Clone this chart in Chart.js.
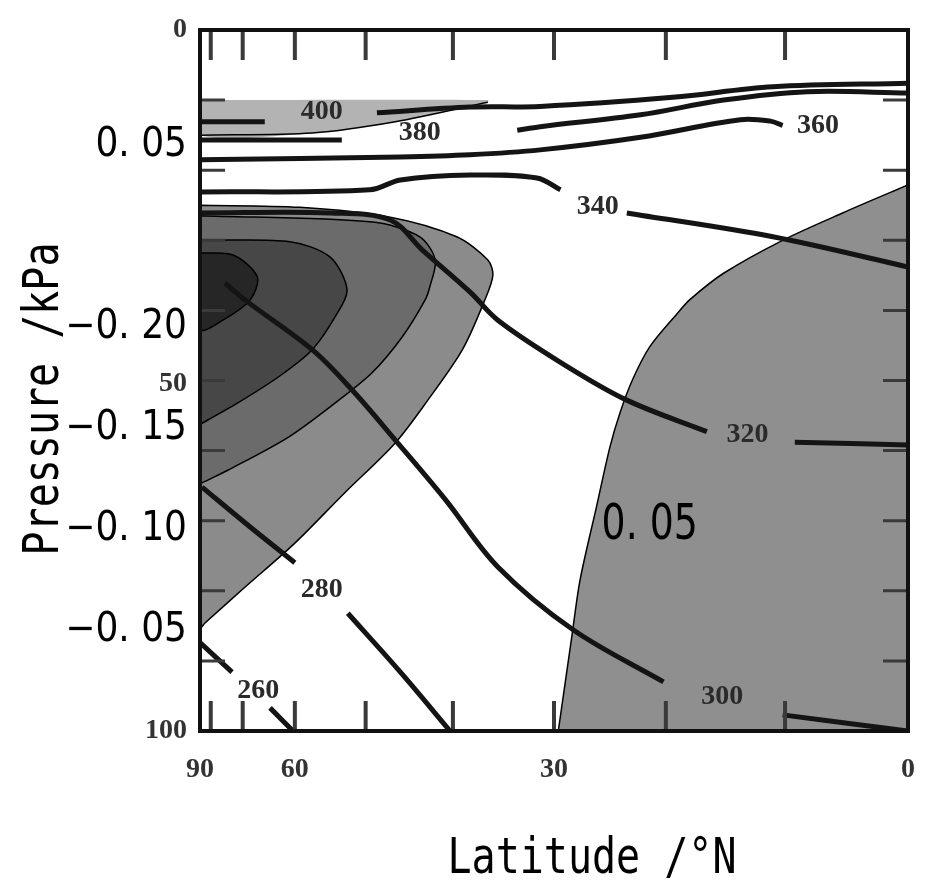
<!DOCTYPE html>
<html>
<head>
<meta charset="utf-8">
<script src="https://cdn.jsdelivr.net/npm/chart.js@4.4.1/dist/chart.umd.min.js"></script>
<style>
  html, body { margin: 0; background: #fff; }
  #wrap { width: 939px; height: 894px; position: relative; }
</style>
</head>
<body>
<div id="wrap"><canvas id="chart"></canvas></div>
<script>
// points are [latitude °N, pressure kPa]; null breaks a line (label gap)
const xTicks = [90, 60, 30, 0];
const minorLat = [80, 70, 60, 50, 40, 30, 20, 10];
const minorP = [10, 20, 30, 40, 50, 60, 70, 80, 90];
const yTickVals = [0, 16.5, 42.4, 50.4, 56.8, 71.3, 85.7, 100];
const yTickText = ['0', '0. 05', '\u22120. 20', '50', '\u22120. 15', '\u22120. 10', '\u22120. 05', '100'];
const smallTicks = ['0', '50', '100'];

// isotherms (K)
const iso400 = [[90,13.1],[65.3,13.1],null,[48.6,11.8],[38.2,11.0],[31.3,10.9],[19.4,9.6],[11.0,8.1],[0,7.6]];
const iso380 = [[90,15.7],[53.1,15.7],null,[33.5,14.3],[31.3,13.8],[22.2,12.1],[15.1,10.0],[8.2,8.8],[0,9.0]];
const iso360 = [[90,18.5],[45.8,18.1],[38.2,17.8],[31.3,17.1],[22.2,15.3],[13.7,12.8],[11.2,13.0],[10.2,13.6]];
const iso340 = [[90,23.1],[49.5,22.8],[45.8,21.4],[38.2,20.7],[31.6,21.1],[29.4,22.8],null,[23.4,26.1],[11.0,29.5],[0,33.8]];
const iso320 = [[90,26.1],[54.7,26.1],[47.0,27.1],[43.3,31.4],[38.2,37.4],[35.4,41.4],[29.4,47.4],[23.4,52.8],[16.5,57.3],null,[9.2,58.8],[0,59.2]];
const iso300 = [[74.7,36.1],[69.5,38.5],[57.3,45.6],[51.7,51.4],[46.4,58.5],[40.8,67.0],[35.4,76.6],[28.2,85.6],[20.2,93.0],null,[10.2,97.7],[0,100]];
const iso280 = [[85.7,65.2],[68.3,70.9],[60.0,76.0],null,[52.3,83.2],[45.8,91.6],[40.3,100]];
const iso260 = [[90,87.4],[72.7,91.6],null,[64.3,96.7],[60.3,100]];

const isoLabels = ['400', '380', '360', '340', '320', '300', '280', '260'];
const isoLabelLat = [55.9, 43.6, 7.3, 26.0, 13.1, 15.2, 55.9, 66.6];
const isoLabelP = [11.7, 14.7, 13.6, 25.2, 57.8, 95.1, 79.9, 94.2];

// shaded areas
const regionTop = [[90,10.0],[36.4,10.0],[36.4,10.3],[46.4,13.1],[57.3,14.7],[90,15.0],[90,10.0]];
const topEdge = [[90,15.0],[57.3,14.7],[46.4,13.1],[36.4,10.3]];
const blobOuter = [[90,25.0],[59.2,25.3],[47.0,26.7],[39.6,29.5],[36.4,32.8],[35.9,35.0],[36.7,38.5],[39.0,45.6],[42.7,52.8],[46.4,58.9],[52.7,66.0],[60.0,73.2],[69.5,79.5],[83.2,84.6],[90,85.3],[90,25.0]];
const blobMid = [[90,26.5],[49.1,27.4],[43.6,29.5],[41.9,32.8],[42.5,36.7],[43.0,38.5],[45.6,43.8],[49.2,48.9],[54.0,53.2],[61.1,58.1],[73.9,62.8],[85.7,64.6],[90,64.8],[90,26.5]];
const blobInner = [[90,30.0],[60.8,30.2],[54.7,32.4],[52.4,37.1],[54.0,40.9],[57.3,45.6],[62.8,49.5],[71.2,53.2],[85.7,56.1],[90,56.2],[90,30.0]];
const blobCore = [[90,31.8],[72.4,32.1],[66.8,35.2],[68.3,38.5],[75.4,41.4],[90,42.7],[90,31.8]];
// right area: edge from the equator down to the ground, shaded below it
const rightEdge = [[0,22.1],[5.3,26.1],[10.2,30.0],[15.1,34.7],[17.9,38.4],[19.0,40.4],[21.4,45.2],[22.9,49.9],[24.0,54.6],[24.9,59.5],[26.1,68.0],[27.6,78.5],[28.3,86.0],[29.6,100]];
const regionText = '0. 05';
const regionTextLat = 21.4;
const regionTextP = 70.8;

const BIG_FONT = "'DejaVu Sans Condensed', 'DejaVu Sans', sans-serif";
const SMALL_FONT = "'Liberation Serif', 'DejaVu Serif', serif";
const TITLE_FONT = "'DejaVu Sans Mono', 'Liberation Mono', monospace";

// latitude axis spaced by sin(latitude), 90 on the left
class SinLatScale extends Chart.LinearScale {
  getPixelForValue(v) {
    return this.left + (1 - Math.sin(v * Math.PI / 180)) * this.width;
  }
  getValueForPixel(px) {
    return Math.asin(1 - (px - this.left) / this.width) * 180 / Math.PI;
  }
}
SinLatScale.id = 'sinlat';
SinLatScale.defaults = Chart.LinearScale.defaults;
Chart.register(SinLatScale);

const toPts = arr => arr.map(d => d ? { x: d[0], y: d[1] } : { x: null, y: null });

function area(data, color, order, border, fill) {
  return {
    data: toPts(data),
    fill: fill || 'shape',
    backgroundColor: color,
    borderColor: '#000',
    borderWidth: border,
    tension: 0.3,
    pointRadius: 0,
    order: order
  };
}

function iso(data, order) {
  return {
    data: toPts(data),
    fill: false,
    borderColor: '#141414',
    borderWidth: 5,
    tension: 0.35,
    pointRadius: 0,
    order: order
  };
}

const decor = {
  id: 'decor',
  afterDatasetsDraw(chart) {
    const ctx = chart.ctx;
    const xs = chart.scales.x, ys = chart.scales.y;
    const a = chart.chartArea;
    ctx.save();
    // inward ticks
    ctx.strokeStyle = '#3a3a3a';
    ctx.lineWidth = 4;
    minorLat.forEach(lat => {
      const x = xs.getPixelForValue(lat);
      ctx.beginPath();
      ctx.moveTo(x, a.top); ctx.lineTo(x, a.top + 30);
      ctx.moveTo(x, a.bottom); ctx.lineTo(x, a.bottom - 30);
      ctx.stroke();
    });
    ctx.lineWidth = 3;
    minorP.forEach(p => {
      const y = ys.getPixelForValue(p);
      ctx.beginPath();
      ctx.moveTo(a.left, y); ctx.lineTo(a.left + 25, y);
      ctx.moveTo(a.right, y); ctx.lineTo(a.right - 25, y);
      ctx.stroke();
    });
    // frame
    ctx.strokeStyle = '#111';
    ctx.lineWidth = 4;
    ctx.strokeRect(a.left, a.top, a.right - a.left, a.bottom - a.top);

    // contour labels
    ctx.fillStyle = '#2a2a2a';
    ctx.font = 'bold 28px ' + SMALL_FONT;
    ctx.textAlign = 'center';
    ctx.textBaseline = 'middle';
    isoLabels.forEach((t, i) => {
      ctx.fillText(t, xs.getPixelForValue(isoLabelLat[i]), ys.getPixelForValue(isoLabelP[i]));
    });
    ctx.fillStyle = '#000';
    ctx.save();
    ctx.translate(xs.getPixelForValue(regionTextLat), ys.getPixelForValue(regionTextP));
    ctx.scale(1, 1.2);
    ctx.font = '42px ' + BIG_FONT;
    ctx.fillText(regionText, 0, 0);
    ctx.restore();

    // axis titles
    ctx.font = '40px ' + TITLE_FONT;
    ctx.textBaseline = 'alphabetic';
    ctx.save();
    ctx.translate(592, 873);
    ctx.scale(1, 1.25);
    ctx.fillText('Latitude /\u00b0N', 0, 0);
    ctx.restore();
    ctx.save();
    ctx.translate(58, 399);
    ctx.rotate(-Math.PI / 2);
    ctx.scale(1, 1.25);
    ctx.fillText('Pressure /kPa', 0, 0);
    ctx.restore();
    ctx.restore();
  }
};

new Chart(document.getElementById('chart'), {
  type: 'line',
  data: {
    datasets: [
      iso(iso400, 1), iso(iso380, 2), iso(iso360, 3), iso(iso340, 4),
      iso(iso320, 5), iso(iso300, 6), iso(iso280, 7), iso(iso260, 8),
      { data: toPts(topEdge), fill: false, borderColor: '#000', borderWidth: 1.5, tension: 0.3, pointRadius: 0, order: 9 },
      area(regionTop, '#b3b3b3', 10, 0),
      area(blobCore, '#262626', 11, 1.5),
      area(blobInner, '#474747', 12, 1.5),
      area(blobMid, '#6b6b6b', 13, 1.5),
      area(blobOuter, '#8b8b8b', 14, 1.5),
      area(rightEdge, '#8f8f8f', 15, 1.5, { value: 100 })
    ]
  },
  options: {
    responsive: true,
    maintainAspectRatio: false,
    animation: false,
    layout: { padding: { top: 30, right: 31, left: 0, bottom: 0 } },
    plugins: { legend: { display: false }, tooltip: { enabled: false } },
    scales: {
      x: {
        type: 'sinlat',
        min: 0,
        max: 90,
        grid: { display: false, drawTicks: false },
        border: { display: false },
        afterBuildTicks: s => { s.ticks = xTicks.map(v => ({ value: v })); },
        afterFit: s => { s.height = 163; },
        ticks: {
          autoSkip: false,
          maxRotation: 0,
          padding: 22,
          color: '#333',
          font: { family: SMALL_FONT, size: 28, weight: 'bold' }
        }
      },
      y: {
        type: 'linear',
        reverse: true,
        min: 0,
        max: 100,
        grid: { display: false, drawTicks: false },
        border: { display: false },
        afterBuildTicks: s => { s.ticks = yTickVals.map(v => ({ value: v })); },
        afterFit: s => { s.width = 200; },
        ticks: {
          autoSkip: false,
          padding: 13,
          callback: (v, i) => yTickText[i],
          color: ctx => smallTicks.includes(yTickText[ctx.index]) ? '#333' : '#000',
          font: ctx => smallTicks.includes(yTickText[ctx.index])
            ? { family: SMALL_FONT, size: 28, weight: 'bold' }
            : { family: BIG_FONT, size: 40 }
        }
      }
    }
  },
  plugins: [decor]
});
</script>
</body>
</html>
